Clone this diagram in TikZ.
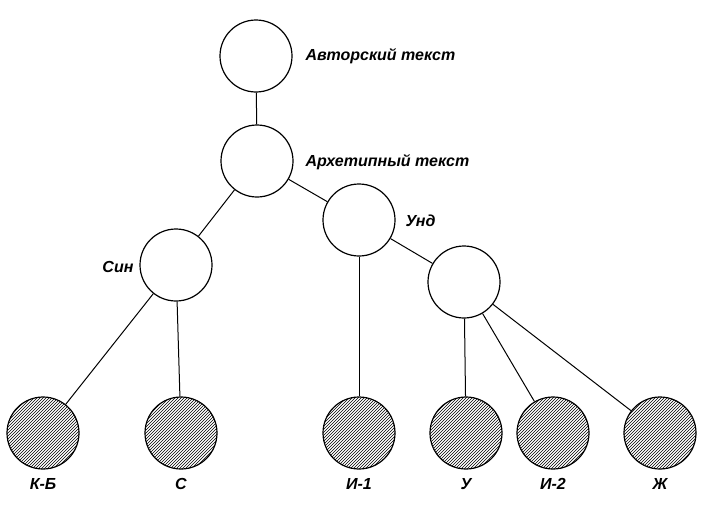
\documentclass[tikz,border=0pt]{standalone}
\usepackage{fontspec}
\setmainfont{Liberation Sans}
\usetikzlibrary{patterns}
\begin{document}
\begin{tikzpicture}[x=1pt,y=-1pt,
  v/.style={circle,draw,line width=1.2pt,minimum size=72pt,inner sep=0pt},
  h/.style={v,pattern=north east lines,pattern color=black},
  lab/.style={font=\fontsize{16}{18}\selectfont\bfseries\itshape},
  e/.style={line width=1pt}]
\useasboundingbox (0,0) rectangle (728,522);
\node[v] (a) at (256,56) {};
\node[v] (b) at (257,161) {};
\node[v] (u) at (359,220) {};
\node[v] (s) at (176,265) {};
\node[v] (r) at (464,282) {};
\node[h] (kb) at (43,433) {};
\node[h] (c) at (181,433) {};
\node[h] (i1) at (359,433) {};
\node[h] (y) at (466,433) {};
\node[h] (i2) at (553,433) {};
\node[h] (zh) at (660,433) {};
\node[lab,anchor=west] (la) at (302,56) {Авторский текст};
\node[lab,anchor=west] (lb) at (302,162) {Архетипный текст};
\node[lab,anchor=west] (lu) at (402,221) {Унд};
\node[lab,anchor=east] (ls) at (137,267) {Син};
\node[lab] (l1) at (43,484) {К-Б};
\node[lab] (l2) at (181,484) {С};
\node[lab] (l3) at (359,484) {И-1};
\node[lab] (l4) at (466,484) {У};
\node[lab] (l5) at (553,484) {И-2};
\node[lab] (l6) at (660,484) {Ж};
\draw[e] (a)--(b); \draw[e] (b)--(s); \draw[e] (b)--(u);
\draw[e] (s)--(kb); \draw[e] (s)--(c);
\draw[e] (u)--(i1); \draw[e] (u)--(r);
\draw[e] (r)--(y); \draw[e] (r)--(i2); \draw[e] (r)--(zh);
\end{tikzpicture}
\end{document}
